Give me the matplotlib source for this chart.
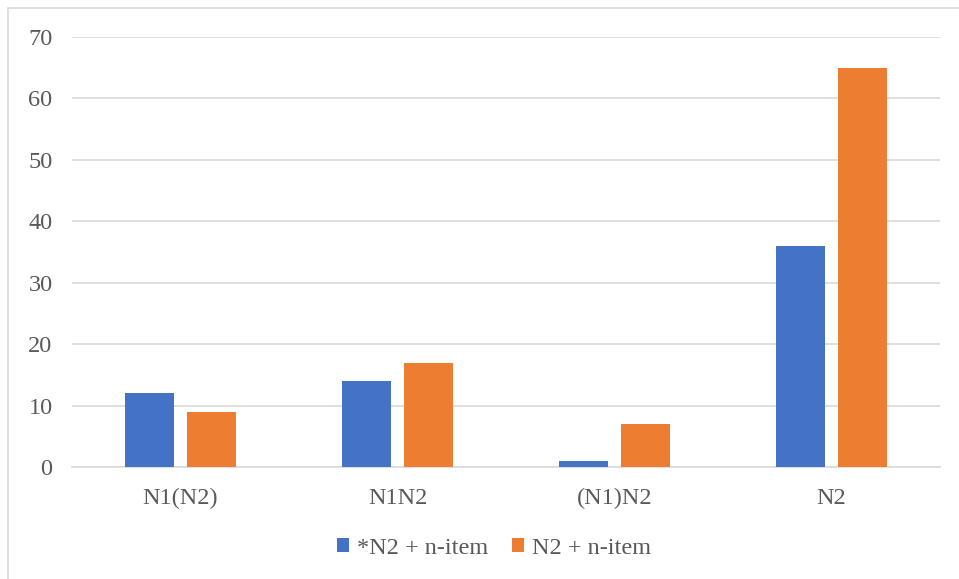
import matplotlib
matplotlib.use("Agg")
import matplotlib.pyplot as plt
from matplotlib.patches import Rectangle
import numpy as np

categories = ["N1(N2)", "N1N2", "(N1)N2", "N2"]
series_names = ["*N2 + n-item", "N2 + n-item"]
blue_vals = [12, 14, 1, 36]
orange_vals = [9, 17, 7, 65]
yticks = [0, 10, 20, 30, 40, 50, 60, 70]

plt.rcParams['font.family'] = ['Liberation Serif', 'DejaVu Serif']
W, H = 959, 579
fig = plt.figure(figsize=(W/100, H/100), dpi=100)
ax = fig.add_axes([72/W, 1-467/H, 868/W, 430/H])

x = np.arange(len(categories))
bw = 0.226
ax.bar(x - 0.143, blue_vals, bw, color="#4472C4", label=series_names[0], zorder=3)
ax.bar(x + 0.143, orange_vals, bw, color="#ED7D31", label=series_names[1], zorder=3)

ax.set_xlim(-0.5, 3.5)
ax.set_ylim(0, 70)
ax.set_yticks(yticks)
ax.set_xticks(x)
ax.set_xticklabels(categories)
ax.yaxis.grid(True, color="#D9D9D9", linewidth=1.2, zorder=0)
for s in ["top", "right", "left"]:
    ax.spines[s].set_visible(False)
ax.spines["bottom"].set_color("#D9D9D9")
ax.spines["bottom"].set_linewidth(1.2)
ax.tick_params(axis="both", length=0, labelsize=17.5, labelcolor="#595959")
ax.tick_params(axis="y", pad=14)
ax.tick_params(axis="x", pad=15)

leg = fig.legend(loc="center", bbox_to_anchor=(494/W, 1-548/H), ncol=2, frameon=False,
                 fontsize=17.5, handlelength=0.5, handleheight=0.5, handletextpad=0.3,
                 columnspacing=1.0)
for t in leg.get_texts():
    t.set_color("#595959")

fig.patches.append(Rectangle((8/W, -0.1), 1.2, (1-8/H)+0.1, transform=fig.transFigure,
                             fill=False, edgecolor="#D9D9D9", linewidth=1.2))

fig.savefig("out.png", dpi=100)
